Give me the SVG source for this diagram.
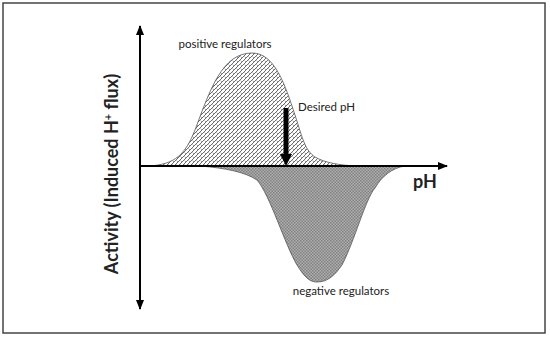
<svg xmlns="http://www.w3.org/2000/svg" width="550" height="339" viewBox="0 0 550 339">
<style>
.lbl{font-family:Lato,"Open Sans","Liberation Sans",sans-serif;fill:#222;}
.ax{stroke:#000;stroke-width:2;fill:none;}
.curve{stroke:#555;stroke-width:0.8;}
</style>
<defs>
<pattern id="hatch" patternUnits="userSpaceOnUse" width="4" height="4">
<rect width="4" height="4" fill="#fff"/>
<path d="M-1,5 L5,-1 M-1,1 L1,-1 M3,5 L5,3" stroke="#5a5a5a" stroke-width="0.9"/>
<path d="M0.5,0.5 L2,2" stroke="#777" stroke-width="0.7"/>
</pattern>
<pattern id="checker" patternUnits="userSpaceOnUse" width="3" height="3">
<rect width="3" height="3" fill="#b0b0b0"/>
<rect width="1.5" height="1.5" fill="#808080"/>
<rect x="1.5" y="1.5" width="1.5" height="1.5" fill="#808080"/>
</pattern>
<marker id="ah" markerWidth="10" markerHeight="8" refX="9" refY="4" orient="auto-start-reverse" markerUnits="userSpaceOnUse">
<path d="M0,0 L10,4 L0,8 Z" fill="#000"/>
</marker>
</defs>
<rect x="3" y="3" width="542" height="330" fill="#fff" stroke="#444" stroke-width="1.5"/>
<g id="positive-curve">
<path class="curve" fill="url(#hatch)" d="M150,166 C175,164 185,155 195,130 C210,90 222,53 252,53 C275,53 285,85 295,115 C303,140 305,150 315,157 C325,163 340,165 355,166 Z"/>
</g>
<g id="negative-curve">
<path class="curve" fill="url(#checker)" d="M200,166 C225,168 245,172 257,180 C270,195 285,245 297,265 C305,278 310,282 317,282 C328,282 335,275 342,265 C355,240 365,200 375,188 C382,176 392,168 405,166 Z"/>
</g>
<g id="connectors">
<line class="ax" x1="140" y1="26" x2="140" y2="309" marker-start="url(#ah)" marker-end="url(#ah)"/>
<line class="ax" x1="140" y1="166" x2="447" y2="166" marker-end="url(#ah)"/>
<line x1="286" y1="108" x2="286" y2="155" stroke="#000" stroke-width="5"/>
<path d="M280,154 L292,154 L286,166 Z" fill="#000"/>
</g>
<g id="labels">
<text class="lbl" x="225" y="48" font-size="11.5" text-anchor="middle">positive regulators</text>
<text class="lbl" x="298" y="111" font-size="11.5">Desired pH</text>
<text class="lbl" x="341" y="295" font-size="11.5" text-anchor="middle">negative regulators</text>
<text class="lbl" x="413" y="188" font-size="18" font-weight="bold">pH</text>
<text class="lbl" transform="translate(118,174) rotate(-90)" font-size="18" font-weight="bold" text-anchor="middle">Activity (Induced H<tspan font-size="11" dy="-6">+</tspan><tspan dy="6"> flux)</tspan></text>
</g>
</svg>
